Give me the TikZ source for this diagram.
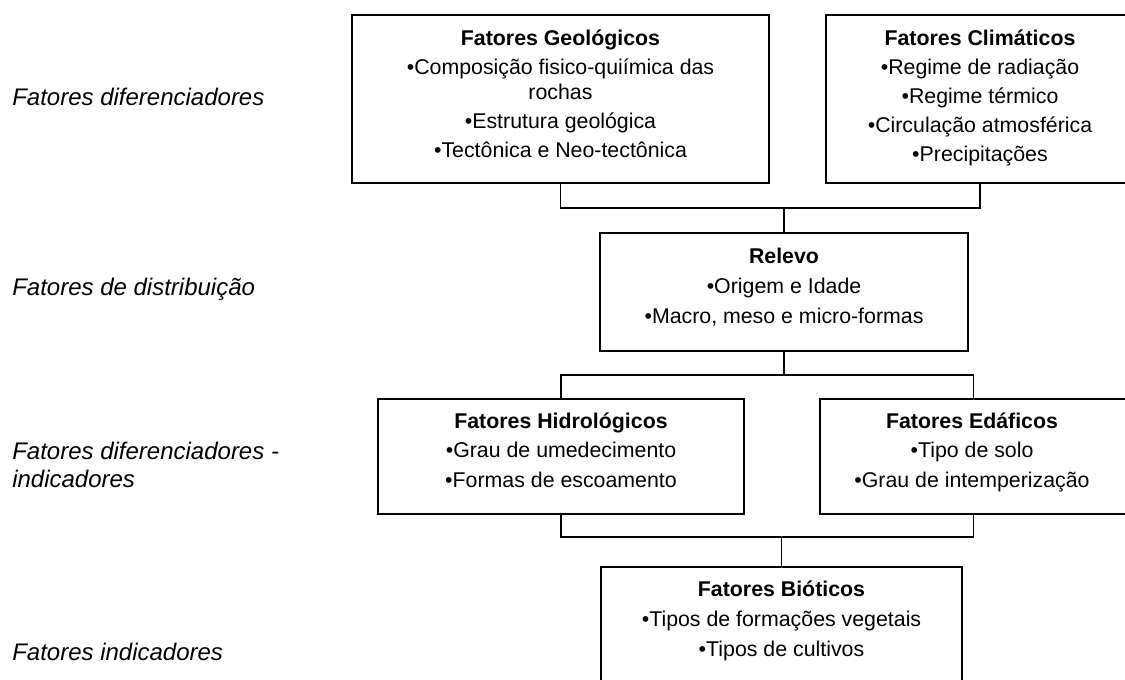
\documentclass[tikz,border=0pt]{standalone}
\usepackage{fontspec}
\setmainfont{Liberation Sans}
\usetikzlibrary{fit}
\begin{document}
\begin{tikzpicture}[x=0.75pt,y=-0.75pt,
  box/.style={draw, line width=1.5pt, rectangle, inner sep=0pt},
  wire/.style={draw, line width=1.2pt},
  ln/.style={font=\fontsize{16}{19}\selectfont, anchor=base, inner sep=0pt},
  ttl/.style={font=\fontsize{16}{19}\selectfont\bfseries, anchor=base, inner sep=0pt},
  lab/.style={font=\fontsize{18}{21}\selectfont\itshape, anchor=base west, inner sep=0pt}]
\useasboundingbox (0,0) rectangle (1125,680);
\clip (0,0) rectangle (1125,680);
% boxes
\node[box, fit={(352,15) (769,183)}] (geo) {};
\node[box, fit={(826,15) (1134,183)}] (clim) {};
\node[box, fit={(600,233) (968,351)}] (rel) {};
\node[box, fit={(378,399) (744,514)}] (hid) {};
\node[box, fit={(820,399) (1127,514)}] (eda) {};
\node[box, fit={(601,567) (962,700)}] (bio) {};
% texts
\node[ttl] (geo1) at (560.5,46) {Fatores Geológicos};
\node[ln] (geo2) at (560.5,75) {•Composição fisico-quiímica das};
\node[ln] (geo3) at (560.5,100) {rochas};
\node[ln] (geo4) at (560.5,129) {•Estrutura geológica};
\node[ln] (geo5) at (560.5,158) {•Tectônica e Neo-tectônica};
\node[ttl] (cl1) at (980,46) {Fatores Climáticos};
\node[ln] (cl2) at (980,75) {•Regime de radiação};
\node[ln] (cl3) at (980,104) {•Regime térmico};
\node[ln] (cl4) at (980,133) {•Circulação atmosférica};
\node[ln] (cl5) at (980,162) {•Precipitações};
\node[ttl] (re1) at (784,264) {Relevo};
\node[ln] (re2) at (784,294) {•Origem e Idade};
\node[ln] (re3) at (784,324) {•Macro, meso e micro-formas};
\node[ttl] (hi1) at (561,429) {Fatores Hidrológicos};
\node[ln] (hi2) at (561,458) {•Grau de umedecimento};
\node[ln] (hi3) at (561,488) {•Formas de escoamento};
\node[ttl] (ed1) at (972,429) {Fatores Edáficos};
\node[ln] (ed2) at (972,458) {•Tipo de solo};
\node[ln] (ed3) at (972,488) {•Grau de intemperização};
\node[ttl] (bi1) at (781.5,597) {Fatores Bióticos};
\node[ln] (bi2) at (781.5,627) {•Tipos de formações vegetais};
\node[ln] (bi3) at (781.5,657) {•Tipos de cultivos};
% left labels
\node[lab] (l1) at (12,106) {Fatores diferenciadores};
\node[lab] (l2) at (12,296) {Fatores de distribuição};
\node[lab] (l3) at (12,460) {Fatores diferenciadores -};
\node[lab] (l4) at (12,488) {indicadores};
\node[lab] (l5) at (12,660) {Fatores indicadores};
% connectors
\coordinate (j1) at (784,208);
\coordinate (j2) at (784,375);
\coordinate (j3) at (781.5,537);
\draw[wire] (geo.south) |- (j1) -| (clim.south);
\draw[wire] (j1) -- (rel.north);
\draw[wire] (rel.south) -- (j2);
\draw[wire] (hid.north) |- (j2) -| (eda.north);
\draw[wire] (hid.south) |- (j3) -| (eda.south);
\draw[wire] (j3) -- (bio.north);
\end{tikzpicture}
\end{document}
